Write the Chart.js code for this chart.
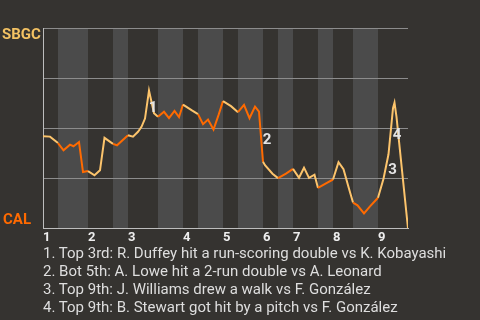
<!DOCTYPE html>
<html>
<head>
<meta charset="utf-8">
<script src="https://cdn.jsdelivr.net/npm/chart.js@4"></script>
<style>
  html, body { margin: 0; padding: 0; background: #353330; }
  #wrap { position: relative; width: 480px; height: 320px; overflow: hidden; }
  #wpChart { position: absolute; left: 0; top: 0; }
  #notes { position: absolute; left: 43px; top: 244px; font-family: Roboto, sans-serif;
           font-size: 15px; line-height: 18px; color: #dedede; white-space: nowrap; }
</style>
</head>
<body>
<div id="wrap">
  <canvas id="wpChart" width="480" height="320"></canvas>
  <div id="notes"></div>
</div>
<script>
// half-inning boundaries, in plays from the first pitch
const halfInningStarts = [0, 3, 9, 14, 17, 23, 28, 31, 36, 39, 44, 47, 50, 55, 58, 62, 67, 73];
const inningLabels = ['1', '2', '3', '4', '5', '6', '7', '8', '9'];

// SBGC win probability (%) after each play
const playPos = [0, 1.4, 3, 4.1, 5.4, 6.1, 7.2, 8, 9, 10.3, 11.4, 12.3, 14, 14.8, 17, 18, 19, 19.7, 20.4, 21.2,
  22.2, 23, 24.2, 25.2, 26.3, 27.2, 28, 29.7, 31, 32, 33, 34.1, 35.1, 36, 37.6, 39, 40.2, 41.3, 42.4, 43.2,
  44, 44.4, 45.9, 47, 48.6, 50, 51.2, 52.2, 53.2, 54.3, 55, 56.6, 58, 59.1, 60.1, 61.1, 62, 62.9, 64.2, 65.4,
  67, 68.1, 69.1, 70, 70.3, 70.7, 73];
const sbgcWinPct = [46, 45.8, 42.6, 39, 41.8, 41, 43.1, 28.1, 28.6, 26.5, 29, 45.2, 42.2, 41.5, 46.5, 45.8, 48.2, 50.7, 54.8, 68.8,
  57.5, 55.7, 58.2, 55, 58.6, 55.5, 61.8, 59, 57, 52, 54.3, 49.3, 56.5, 63.5, 61, 58, 61.6, 55, 60.8, 58.3,
  33.2, 31.5, 27.3, 25.1, 27.3, 29.7, 25.3, 30.3, 25.2, 26.8, 20.2, 22.5, 24.4, 33, 29.5, 20.7, 12.9, 11.5, 7.5, 11,
  15.3, 24.8, 37, 60, 62.7, 55.7, 0];

// key plays: index of the point reached by the play
const eventIdx = [19, 40, 62, 63];
const eventLabels = ['1', '2', '3', '4'];
const notes = [
  '1. Top 3rd: R. Duffey hit a run-scoring double vs K. Kobayashi',
  '2. Bot 5th: A. Lowe hit a 2-run double vs A. Leonard',
  '3. Top 9th: J. Williams drew a walk vs F. González',
  '4. Top 9th: B. Stewart got hit by a pitch vs F. González'
];

const awayColor = '#fcc46c';
const homeColor = '#ff6a00';

document.getElementById('notes').innerHTML = notes.map(n => '<div>' + n + '</div>').join('');

function halfOf(x) {
  for (let k = 0; k < halfInningStarts.length - 1; k++) {
    if (x >= halfInningStarts[k] && x < halfInningStarts[k + 1]) return k;
  }
  return halfInningStarts.length - 2;
}

const bandsPlugin = {
  id: 'bands',
  beforeDraw(chart) {
    const {ctx, chartArea, scales} = chart;
    ctx.save();
    ctx.fillStyle = '#4b4b4b';
    for (let k = 1; k < halfInningStarts.length - 1; k += 2) {
      const x0 = scales.x.getPixelForValue(halfInningStarts[k]);
      const x1 = scales.x.getPixelForValue(halfInningStarts[k + 1]);
      ctx.fillRect(x0, chartArea.top, x1 - x0, chartArea.bottom - chartArea.top);
    }
    ctx.restore();
  },
  afterDraw(chart) {
    const {ctx, scales} = chart;
    ctx.save();
    ctx.font = 'bold 15px Roboto';
    ctx.textAlign = 'left';
    ctx.textBaseline = 'alphabetic';
    ctx.fillStyle = '#f3c263';
    ctx.fillText('SBGC', 2, scales.y.getPixelForValue(100) + 11);
    ctx.fillStyle = homeColor;
    ctx.fillText('CAL', 3, scales.y.getPixelForValue(0) - 4);

    // numbered markers for the key plays
    ctx.font = 'bold 15px Roboto';
    ctx.fillStyle = '#e4e4e4';
    ctx.textAlign = 'center';
    ctx.textBaseline = 'middle';
    eventIdx.forEach((i, n) => {
      const x = scales.x.getPixelForValue(playPos[i]) + 4;
      const y = scales.y.getPixelForValue((sbgcWinPct[i] + sbgcWinPct[i - 1]) / 2) + 4;
      ctx.fillText(eventLabels[n], x, y);
    });
    ctx.restore();
  }
};

Chart.defaults.font.family = 'Roboto';

new Chart(document.getElementById('wpChart'), {
  type: 'line',
  data: {
    datasets: [{
      data: playPos.map((x, i) => ({x: x, y: sbgcWinPct[i]})),
      borderColor: awayColor,
      borderWidth: 2,
      pointRadius: 0,
      tension: 0,
      segment: {
        borderColor: ctx => {
          const mid = (ctx.p0.parsed.x + ctx.p1.parsed.x) / 2;
          return halfOf(mid) % 2 === 0 ? awayColor : homeColor;
        }
      }
    }]
  },
  options: {
    responsive: false,
    animation: false,
    layout: { padding: { left: 43, top: 28, right: 72, bottom: 72 } },
    plugins: { legend: { display: false }, tooltip: { enabled: false } },
    scales: {
      x: {
        type: 'linear',
        min: 0,
        max: 73,
        afterBuildTicks: scale => {
          scale.ticks = halfInningStarts.filter((v, k) => k % 2 === 0 && k < halfInningStarts.length - 1)
            .map(v => ({value: v}));
        },
        grid: { display: false, drawTicks: false },
        border: { display: true, color: '#bdbdbd', width: 1 },
        ticks: {
          autoSkip: false,
          maxRotation: 0,
          align: 'start',
          padding: 2,
          color: '#eeeeee',
          font: { size: 13, weight: 'bold' },
          callback: (v, i) => inningLabels[i]
        }
      },
      y: {
        min: 0,
        max: 100,
        ticks: { display: false, stepSize: 25 },
        grid: { color: '#8c8c8c', drawTicks: false },
        border: { display: true, color: '#bdbdbd', width: 1 }
      }
    }
  },
  plugins: [bandsPlugin]
});
</script>
</body>
</html>
